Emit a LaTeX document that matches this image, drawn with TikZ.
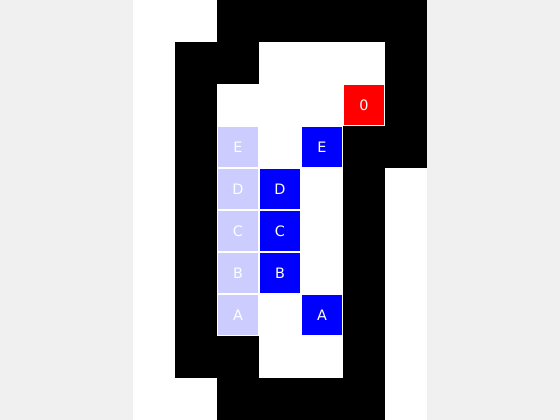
\documentclass[tikz,border=0pt]{standalone}
\usepackage{fontspec}
\setmainfont{DejaVu Sans}
\usepackage{xcolor}
\usetikzlibrary{positioning}
\definecolor{bggray}{HTML}{F0F0F0}
\definecolor{ghost}{HTML}{CCCCFF}
\tikzset{
  wall/.style={fill=black, draw=none},
  tile/.style={rectangle, minimum size=35.5pt, inner sep=0pt, text=white, font=\fontsize{13}{15}\selectfont},
  past/.style={tile, fill=ghost},
  now/.style={tile, fill=blue},
  goal/.style={tile, fill=red},
  board/.style={x=1.3335cm, y=1.3335cm}
}
\begin{document}
\begin{tikzpicture}[board]
  \useasboundingbox (-3.1667,-10) rectangle (10.1667,0);
  \fill[bggray] (-3.1667,-10) rectangle (10.1667,0);
  \fill[white] (0,-10) rectangle (7,0);
  % walls
  \foreach \c/\r in {2/0,3/0,4/0,5/0,6/0,1/1,2/1,6/1,1/2,6/2,1/3,5/3,6/3,
                     1/4,5/4,1/5,5/5,1/6,5/6,1/7,5/7,1/8,2/8,5/8,
                     2/9,3/9,4/9,5/9}
    \fill[wall] (\c,-\r) rectangle ++(1,-1);
  % earlier positions
  \node[past] (pE) at (2.5,-3.5) {E};
  \node[past] (pD) at (2.5,-4.5) {D};
  \node[past] (pC) at (2.5,-5.5) {C};
  \node[past] (pB) at (2.5,-6.5) {B};
  \node[past] (pA) at (2.5,-7.5) {A};
  % current positions
  \node[now] (nE) at (4.5,-3.5) {E};
  \node[now] (nD) at (3.5,-4.5) {D};
  \node[now] (nC) at (3.5,-5.5) {C};
  \node[now] (nB) at (3.5,-6.5) {B};
  \node[now] (nA) at (4.5,-7.5) {A};
  \node[goal] (target) at (5.5,-2.5) {0};
\end{tikzpicture}
\end{document}
